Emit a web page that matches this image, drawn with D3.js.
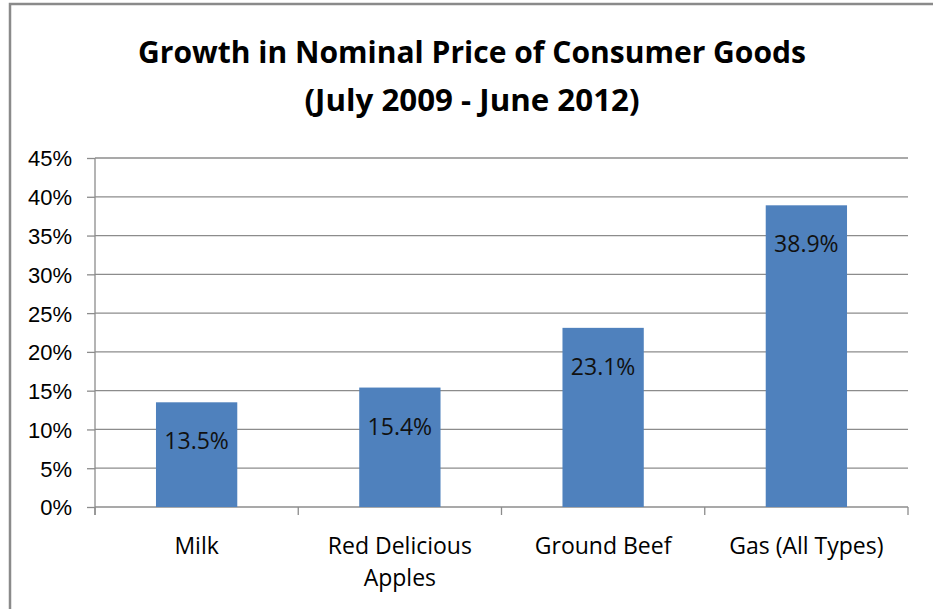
<!DOCTYPE html>
<html lang="en">
<head>
    <meta charset="UTF-8">
    <script src="https://d3js.org/d3.v7.min.js"></script>
    <style>
        body { margin: 0; background: #fff; }
        svg { font-family: "Open Sans", "Noto Sans", sans-serif; }
        .title { font-weight: 700; text-anchor: middle; fill: #000; }
        .axis text { fill: #000; }
        .grid line { stroke: #8c8c8c; stroke-width: 1.3px; }
        .bar { fill: #4f81bd; }
        .bar-label { text-anchor: middle; fill: #111; }
    </style>
</head>
<body>
    <svg id="chart" width="933" height="609"></svg>
    <script>
        const categories = [["Milk"], ["Red Delicious", "Apples"], ["Ground Beef"], ["Gas (All Types)"]];
        const values = [13.5, 15.4, 23.1, 38.9];
        const yTicks = [0, 5, 10, 15, 20, 25, 30, 35, 40, 45];
        const titleLines = ["Growth in Nominal Price of Consumer Goods", "(July 2009 - June 2012)"];

        const svg = d3.select("#chart");
        const margin = { top: 158, right: 25, bottom: 102, left: 95 };
        const width = +svg.attr("width");
        const height = +svg.attr("height");
        const plotW = width - margin.left - margin.right;
        const plotH = height - margin.top - margin.bottom;

        // outer chart border (only top and left show in the frame)
        svg.append("path")
            .attr("d", "M10,609 L10,4 L933,4")
            .attr("fill", "none")
            .attr("stroke", "#8a8a8a")
            .attr("stroke-width", 2.5);

        svg.selectAll(".title").data(titleLines)
            .enter().append("text")
            .attr("class", "title")
            .attr("x", 472)
            .attr("y", (d, i) => 63 + i * 48)
            .attr("font-size", "31px")
            .attr("textLength", (d, i) => i === 0 ? 668 : 335)
            .attr("lengthAdjust", "spacingAndGlyphs")
            .text(d => d);

        const g = svg.append("g").attr("transform", `translate(${margin.left},${margin.top})`);

        const x = d3.scaleBand()
            .domain(d3.range(categories.length))
            .range([0, plotW])
            .paddingInner(0.6)
            .paddingOuter(0.3);
        const y = d3.scaleLinear().domain([0, 45]).range([plotH, 0]);

        // gridlines
        g.append("g").attr("class", "grid")
            .selectAll("line").data(yTicks.slice(1))
            .enter().append("line")
            .attr("x1", 0).attr("x2", plotW)
            .attr("y1", d => y(d)).attr("y2", d => y(d));

        // y axis
        const yAxis = g.append("g").attr("class", "axis")
            .call(d3.axisLeft(y).tickValues(yTicks).tickSize(8).tickPadding(15).tickFormat(d => d + "%"));
        yAxis.selectAll("text").attr("font-size", "22px").attr("dy", "0.36em");
        yAxis.select(".domain").attr("stroke", "#8c8c8c").attr("stroke-width", 1.3)
            .attr("d", `M0,0V${plotH + 8}`);
        yAxis.selectAll(".tick line").attr("stroke", "#8c8c8c").attr("stroke-width", 1.3);

        // x axis line and category boundary ticks
        const step = x.step();
        const xb = g.append("g").attr("class", "axis").attr("transform", `translate(0,${plotH})`);
        xb.append("line").attr("x1", 0).attr("x2", plotW)
            .attr("stroke", "#8c8c8c").attr("stroke-width", 1.3);
        xb.selectAll(".btick").data(d3.range(categories.length + 1))
            .enter().append("line")
            .attr("x1", d => d * step).attr("x2", d => d * step)
            .attr("y1", 0).attr("y2", 8)
            .attr("stroke", "#8c8c8c").attr("stroke-width", 1.3);

        const catLabels = xb.selectAll(".cat").data(categories)
            .enter().append("text")
            .attr("class", "cat")
            .attr("text-anchor", "middle")
            .attr("font-size", "23px")
            .attr("fill", "#000")
            .attr("transform", (d, i) => `translate(${x(i) + x.bandwidth() / 2},47)`);
        catLabels.selectAll("tspan").data(d => d)
            .enter().append("tspan")
            .attr("x", 0)
            .attr("y", (d, i) => i * 32)
            .text(d => d);

        // bars
        g.selectAll(".bar").data(values)
            .enter().append("rect")
            .attr("class", "bar")
            .attr("x", (d, i) => x(i))
            .attr("width", x.bandwidth())
            .attr("y", d => y(d))
            .attr("height", d => plotH - y(d));

        g.selectAll(".bar-label").data(values)
            .enter().append("text")
            .attr("class", "bar-label")
            .attr("font-size", "23px")
            .attr("x", (d, i) => x(i) + x.bandwidth() / 2)
            .attr("y", d => y(d) + 47)
            .text(d => d.toFixed(1) + "%");
    </script>
</body>
</html>
